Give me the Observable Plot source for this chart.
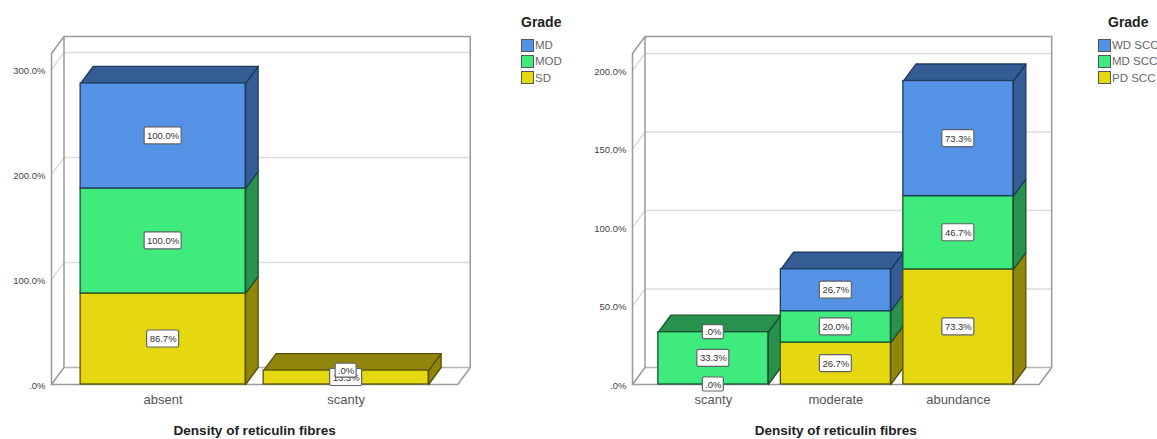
<!DOCTYPE html>
<html>
<head>
<meta charset="utf-8">
<script src="https://cdn.jsdelivr.net/npm/d3@7"></script>
<script src="https://cdn.jsdelivr.net/npm/@observablehq/plot@0.6"></script>
<style>
  html, body { margin: 0; padding: 0; background: #fff; }
  #page { position: relative; width: 1157px; height: 439px; overflow: hidden; font-family: "Liberation Sans", Arial, sans-serif; }
  .chart { position: absolute; top: 0; }
  .legend { position: absolute; top: 14px; white-space: nowrap; }
  .legend b { display: block; font-size: 14px; color: #222; line-height: 16px; margin-left: var(--title-indent); margin-bottom: 7px; }
  .legend div { display: flex; align-items: center; height: 16.3px; font-size: 11.5px; color: #666; }
  .legend i { display: block; box-sizing: border-box; width: 13px; height: 13px; margin-right: 1px; border: 1.2px solid #555; }
</style>
</head>
<body>
<div id="page"></div>
<script>
// Percent of cases in each grade, by density of reticulin fibres.
const gradeCategories = ["absent", "scanty"];
const gradeSD = [86.7, 13.3];
const gradeMOD = [100, 0];
const gradeMD = [100, null];
const gradeTicks = [0, 100, 200, 300];

const sccCategories = ["scanty", "moderate", "abundance"];
const sccPD = [0, 26.7, 73.3];
const sccMD = [33.3, 20, 46.7];
const sccWD = [0, 26.7, 73.3];
const sccTicks = [0, 50, 100, 150, 200];

const xTitle = "Density of reticulin fibres";
const legendTitle = "Grade";

const BLUE = { front: "#5392e4", shade: "#335d94", line: "#1f3a5e" };
const GREEN = { front: "#3eeb7c", shade: "#28914e", line: "#17532d" };
const YELLOW = { front: "#e6d80e", shade: "#8f860b", line: "#565006" };

const percent = (v) => (v === 0 ? ".0%" : v.toFixed(1) + "%");

// Each segment is a prism: a front rectangle, a side face and, on the top of a stack, a lid.
function stackedBars(categories, series, depthX, depthY, halfWidth) {
  const faces = [];
  const segments = [];
  categories.forEach((category, i) => {
    let base = 0;
    const present = series.filter((s) => s.values[i] > 0);
    for (const s of series) {
      const value = s.values[i];
      if (value == null) continue;
      const top = base + value;
      const x1 = i - halfWidth;
      const x2 = i + halfWidth;
      segments.push({ i, base, top, value, palette: s.palette });
      if (value > 0) {
        const side = `${i}-${s.name}-side`;
        [[x2, base], [x2 + depthX, base + depthY], [x2 + depthX, top + depthY], [x2, top]].forEach(([x, y]) =>
          faces.push({ id: side, x, y, fill: s.palette.shade, stroke: s.palette.line }));
        if (s === present[present.length - 1]) {
          const lid = `${i}-${s.name}-lid`;
          [[x1, top], [x2, top], [x2 + depthX, top + depthY], [x1 + depthX, top + depthY]].forEach(([x, y]) =>
            faces.push({ id: lid, x, y, fill: s.palette.shade, stroke: s.palette.line }));
        }
      }
      base = top;
    }
  });
  return { faces, segments };
}

function chart({ categories, series, ticks, left, width, frameLeft, step, barWidth, padding, pxPerPercent }) {
  const frontBottom = 384, wallTop = 36, depthPxX = 12.5, depthPxY = 17;
  const depthX = depthPxX / step;
  const depthY = depthPxY / pxPerPercent;
  const xMin = -padding;
  const xFront = categories.length - 1 + padding;
  const xMax = xFront + depthX;
  const yMax = (frontBottom - wallTop) / pxPerPercent;
  const yFront = yMax - depthY;

  const { faces, segments } = stackedBars(categories, series, depthX, depthY, barWidth / step / 2);
  const wall = { stroke: "#9a9a9a", strokeWidth: 1.5 };
  const grid = { stroke: "#dcdcdc", strokeWidth: 1.4 };
  const boxWidth = (d) => (d.value === 0 ? 21 : d.value >= 100 ? 37 : 32) / step / 2;
  const boxHeight = (d) => (d.value === 0 ? 7 : 8.5) / pxPerPercent;
  const mid = (d) => (d.base + d.top) / 2;

  return Plot.plot({
    width,
    height: 439,
    marginLeft: frameLeft - left,
    marginRight: width - (frameLeft - left) - (xMax - xMin) * step,
    marginTop: wallTop,
    marginBottom: 439 - frontBottom,
    x: { type: "linear", domain: [xMin, xMax] },
    y: { type: "linear", domain: [0, yMax] },
    color: { type: "identity" },
    style: { fontFamily: "'Liberation Sans', Arial, sans-serif", background: "transparent", overflow: "visible" },
    marks: [
      // Back wall grid, and its return along the left wall
      Plot.ruleY(ticks.slice(1), { y: (t) => t + depthY, x1: xMin + depthX, x2: xMax, ...grid }),
      ...ticks.slice(1).map((t) => Plot.line([[xMin, t], [xMin + depthX, t + depthY]], grid)),
      Plot.ruleY([depthY], { x1: xMin + depthX, x2: xMax, ...grid, stroke: "#b5b5b5" }),

      // Box outline
      Plot.line([[xMin, yFront], [xMin, 0], [xFront, 0], [xMax, depthY], [xMax, yMax], [xMin + depthX, yMax], [xMin, yFront]], wall),
      Plot.line([[xMin + depthX, yMax], [xMin + depthX, depthY], [xMin, 0]], wall),

      Plot.axisY(ticks, { anchor: "left", tickSize: 0, tickPadding: 6, tickFormat: percent, fontSize: 9.5, fill: "#444", label: null, dy: 1 }),
      Plot.axisX(d3.range(categories.length), { anchor: "bottom", tickSize: 0, tickPadding: 10, tickFormat: (i) => categories[i], fontSize: 13, fill: "#555", label: null }),
      Plot.text([xTitle], { x: () => (xMin + xFront) / 2, frameAnchor: "bottom", dy: 50, fontSize: 13.5, fontWeight: "bold", fill: "#222", textAnchor: "middle" }),

      // Side faces and lids sit behind the front rectangles
      Plot.line(faces, { x: "x", y: "y", z: "id", fill: "fill", stroke: "stroke", strokeWidth: 1.3, curve: "linear-closed" }),
      Plot.rect(segments.filter((d) => d.value > 0), {
        x1: (d) => d.i - barWidth / step / 2,
        x2: (d) => d.i + barWidth / step / 2,
        y1: "base",
        y2: "top",
        fill: (d) => d.palette.front,
        stroke: (d) => d.palette.line,
        strokeWidth: 1.3
      }),

      // Value tags stack in series order, so a later tag can cover an earlier one
      ...segments.flatMap((segment) => [
        Plot.rect([segment], {
          x1: (d) => d.i - boxWidth(d),
          x2: (d) => d.i + boxWidth(d),
          y1: (d) => mid(d) - boxHeight(d),
          y2: (d) => mid(d) + boxHeight(d),
          fill: "#fff",
          stroke: "#5f6368",
          strokeWidth: 1.2,
          rx: 1.5
        }),
        Plot.text([segment], { x: "i", y: mid, text: (d) => percent(d.value), fontSize: 9.5, fill: "#333" })
      ])
    ]
  });
}

function legend(entries, left, titleIndent) {
  const box = document.createElement("div");
  box.className = "legend";
  box.style.left = left + "px";
  box.style.setProperty("--title-indent", titleIndent + "px");
  const title = document.createElement("b");
  title.textContent = legendTitle;
  box.append(title);
  for (const { name, palette } of entries) {
    const row = document.createElement("div");
    const swatch = document.createElement("i");
    swatch.style.background = palette.front;
    row.append(swatch, name);
    box.append(row);
  }
  return box;
}

const page = document.getElementById("page");

function place(node, left) {
  node.classList.add("chart");
  node.style.left = left + "px";
  page.append(node);
}

place(chart({
  categories: gradeCategories,
  series: [
    { name: "SD", values: gradeSD, palette: YELLOW },
    { name: "MOD", values: gradeMOD, palette: GREEN },
    { name: "MD", values: gradeMD, palette: BLUE }
  ],
  ticks: gradeTicks,
  left: 0,
  width: 510,
  frameLeft: 51,
  step: 183,
  barWidth: 165,
  padding: 0.61,
  pxPerPercent: 1.05
}), 0);

place(chart({
  categories: sccCategories,
  series: [
    { name: "PD SCC", values: sccPD, palette: YELLOW },
    { name: "MD SCC", values: sccMD, palette: GREEN },
    { name: "WD SCC", values: sccWD, palette: BLUE }
  ],
  ticks: sccTicks,
  left: 570,
  width: 500,
  frameLeft: 632,
  step: 122.5,
  barWidth: 110,
  padding: 0.66,
  pxPerPercent: 1.57
}), 570);

page.append(legend([
  { name: "MD", palette: BLUE },
  { name: "MOD", palette: GREEN },
  { name: "SD", palette: YELLOW }
], 521, 0));
page.append(legend([
  { name: "WD SCC", palette: BLUE },
  { name: "MD SCC", palette: GREEN },
  { name: "PD SCC", palette: YELLOW }
], 1098, 10));
</script>
</body>
</html>
